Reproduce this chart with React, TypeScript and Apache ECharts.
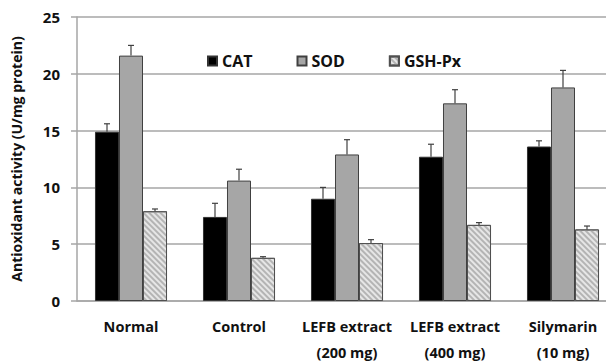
import React, { useEffect, useRef } from "react";
import * as echarts from "echarts";

const categories = ["Normal", "Control", "LEFB extract\n(200 mg)", "LEFB extract\n(400 mg)", "Silymarin\n(10 mg)"];
const seriesNames = ["CAT", "SOD", "GSH-Px"];
const catValues = [14.9, 7.4, 9.0, 12.7, 13.6];
const catErrors = [0.7, 1.2, 1.0, 1.1, 0.5];
const sodValues = [21.6, 10.6, 12.9, 17.4, 18.8];
const sodErrors = [0.9, 1.0, 1.3, 1.2, 1.5];
const gshValues = [7.9, 3.8, 5.1, 6.7, 6.3];
const gshErrors = [0.2, 0.1, 0.3, 0.2, 0.3];
const yTicks = [0, 5, 10, 15, 20, 25];

const FONT = "'Open Sans', 'Noto Sans', sans-serif";

export default function App() {
  const ref = useRef<HTMLDivElement>(null);
  useEffect(() => {
    if (!ref.current) return;
    const chart = echarts.init(ref.current, undefined, { renderer: "svg" });
    const values = [catValues, sodValues, gshValues];
    const errors = [catErrors, sodErrors, gshErrors];
    const errData: number[][] = [];
    values.forEach((vals, s) => {
      vals.forEach((v, i) => {
        errData.push([i, v, v + errors[s][i], s]);
      });
    });
    const gap = 1 / 3;
    chart.setOption({
      animation: false,
      textStyle: { fontFamily: FONT },
      grid: { left: 77, top: 17, width: 540, height: 284, outerBoundsMode: "none", containLabel: false },
      legend: {
        data: seriesNames,
        left: 202,
        top: 48,
        icon: "rect",
        itemWidth: 9,
        itemHeight: 9,
        itemGap: 44,
        textStyle: { fontFamily: FONT, fontWeight: "bold", fontSize: 16, color: "#111" },
      },
      xAxis: {
        type: "category",
        data: categories,
        axisTick: { show: false },
        axisLine: { lineStyle: { color: "#a6a6a6", width: 1.5 } },
        axisLabel: {
          fontFamily: FONT,
          fontWeight: "bold",
          fontSize: 14.5,
          color: "#111",
          lineHeight: 26,
          margin: 12,
          interval: 0,
        },
      },
      yAxis: {
        type: "value",
        min: yTicks[0],
        max: yTicks[yTicks.length - 1],
        interval: 5,
        name: "Antioxidant activity (U/mg protein)",
        nameLocation: "middle",
        nameGap: 54,
        nameTextStyle: { fontFamily: FONT, fontWeight: "bold", fontSize: 14, color: "#111" },
        axisLine: { show: true, lineStyle: { color: "#a6a6a6", width: 1.5 } },
        axisTick: { show: true, length: 6, lineStyle: { color: "#a6a6a6", width: 1.5 } },
        splitLine: { lineStyle: { color: "#a6a6a6", width: 1.5 } },
        axisLabel: { fontFamily: FONT, fontWeight: "bold", fontSize: 15, color: "#111", margin: 17 },
      },
      series: [
        {
          name: "CAT",
          type: "bar",
          data: catValues,
          barGap: "0%",
          barCategoryGap: "33.3%",
          itemStyle: { color: "#000000", borderColor: "#333", borderWidth: 1 },
        },
        {
          name: "SOD",
          type: "bar",
          data: sodValues,
          barGap: "0%",
          barCategoryGap: "33.3%",
          itemStyle: { color: "#a6a6a6", borderColor: "#404040", borderWidth: 1 },
        },
        {
          name: "GSH-Px",
          type: "bar",
          data: gshValues,
          barGap: "0%",
          barCategoryGap: "33.3%",
          itemStyle: {
            color: "#e6e6e6",
            borderColor: "#505050",
            borderWidth: 1,
            decal: {
              symbol: "rect",
              symbolSize: 1,
              color: "#b4b4b4",
              dashArrayX: [1, 0],
              dashArrayY: [1.5, 1.5],
              rotation: Math.PI / 4,
            },
          },
        },
        {
          type: "custom",
          name: "err",
          data: errData,
          encode: { x: 0, y: 2 },
          z: 3,
          renderItem: (params: any, api: any) => {
            const idx = api.value(0);
            const v = api.value(1);
            const e = api.value(2);
            const s = api.value(3);
            const band = api.size([1, 0])[0];
            const barW = (band * (1 - gap)) / 3;
            const base = api.coord([idx, v]);
            const top = api.coord([idx, e]);
            const x = base[0] + (s - 1) * barW;
            const stroke = "#404040";
            return {
              type: "group",
              children: [
                {
                  type: "line",
                  shape: { x1: x, y1: base[1], x2: x, y2: top[1] },
                  style: { stroke, lineWidth: 1.2 },
                },
                {
                  type: "line",
                  shape: { x1: x - 3, y1: top[1], x2: x + 3, y2: top[1] },
                  style: { stroke, lineWidth: 1.2 },
                },
              ],
            };
          },
        },
      ],
    });
    return () => chart.dispose();
  }, []);
  return <div ref={ref} style={{ width: 606, height: 361, position: "absolute", left: 0, top: 0 }} />;
}
